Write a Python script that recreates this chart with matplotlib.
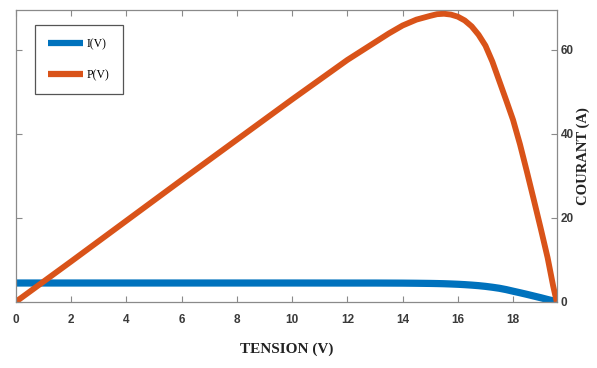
import matplotlib
matplotlib.use("Agg")
import matplotlib.pyplot as plt

# Solar module characteristic: voltage (V), current I(V) and power P(V)
tension = [0, 2, 4, 6, 8, 10, 12, 13, 13.5, 14, 14.5, 15, 15.25, 15.5,
           15.75, 16, 16.25, 16.5, 16.75, 17, 17.25, 17.5, 17.75, 18, 18.25,
           18.5, 18.75, 19, 19.25, 19.45, 19.58]
courant = [4.45, 4.45, 4.45, 4.45, 4.45, 4.45, 4.44, 4.44, 4.43, 4.42, 4.39,
           4.35, 4.32, 4.28, 4.22, 4.15, 4.06, 3.95, 3.82, 3.65, 3.44, 3.20,
           2.88, 2.50, 2.13, 1.75, 1.35, 0.95, 0.52, 0.20, 0.0]
puissance = [0, 9.6, 19.3, 29.0, 38.6, 48.2, 57.6, 61.8, 63.9, 65.8, 67.2,
             68.1, 68.5, 68.6, 68.4, 67.9, 67.0, 65.6, 63.6, 61.0, 57.2, 52.6,
             48.0, 43.3, 37.5, 31.0, 24.3, 17.5, 10.5, 3.8, 0.0]

x_ticks = [0, 2, 4, 6, 8, 10, 12, 14, 16, 18]
y_ticks = [0, 20, 40, 60]

blue = "#0072BD"
orange = "#D95319"
axis_grey = "#8a8a8a"

fig = plt.figure(figsize=(5.97, 3.68), dpi=100)
ax = fig.add_axes([0.0268, 0.1802, 0.9057, 0.7927])

ax.plot(tension, courant, color=blue, lw=5.2, solid_capstyle="butt",
        solid_joinstyle="round", label="I(V)")
ax.plot(tension, puissance, color=orange, lw=4.2, solid_capstyle="butt",
        solid_joinstyle="round", label="P(V)")

ax.set_xlim(0, 19.58)
ax.set_ylim(0, 69.5)
ax.set_xticks(x_ticks)
ax.set_yticks(y_ticks)

ax.tick_params(axis="both", direction="in", length=4, width=0.8,
               colors=axis_grey, labelcolor="#3a3a3a", labelsize=8.5)
ax.tick_params(axis="x", top=True, pad=9)
ax.tick_params(axis="y", left=True, right=True, labelleft=False,
               labelright=True, pad=3)
for lab in ax.get_xticklabels() + ax.get_yticklabels():
    lab.set_fontfamily(["Liberation Sans", "DejaVu Sans"])
    lab.set_fontweight("bold")

for s in ax.spines.values():
    s.set_color(axis_grey)
    s.set_linewidth(0.9)

ax.set_xlabel("TENSION (V)", family="Liberation Serif", fontweight="bold",
              fontsize=11, color="#222222", labelpad=12)
ax.yaxis.set_label_position("right")
ax.set_ylabel("COURANT (A)", family="Liberation Serif", fontweight="bold",
              fontsize=10.5, color="#222222", labelpad=2)

leg = ax.legend(loc="upper left", bbox_to_anchor=(0.035, 0.948),
                borderaxespad=0, handlelength=3.0, handletextpad=0.3,
                labelspacing=1.6, borderpad=1.1, fancybox=False, framealpha=1,
                prop={"family": "Liberation Serif", "size": 8.5})
leg.get_frame().set_edgecolor("#555555")
leg.get_frame().set_linewidth(0.9)
for line in leg.get_lines():
    line.set_linewidth(4.5)

fig.savefig("out.png", dpi=100)
